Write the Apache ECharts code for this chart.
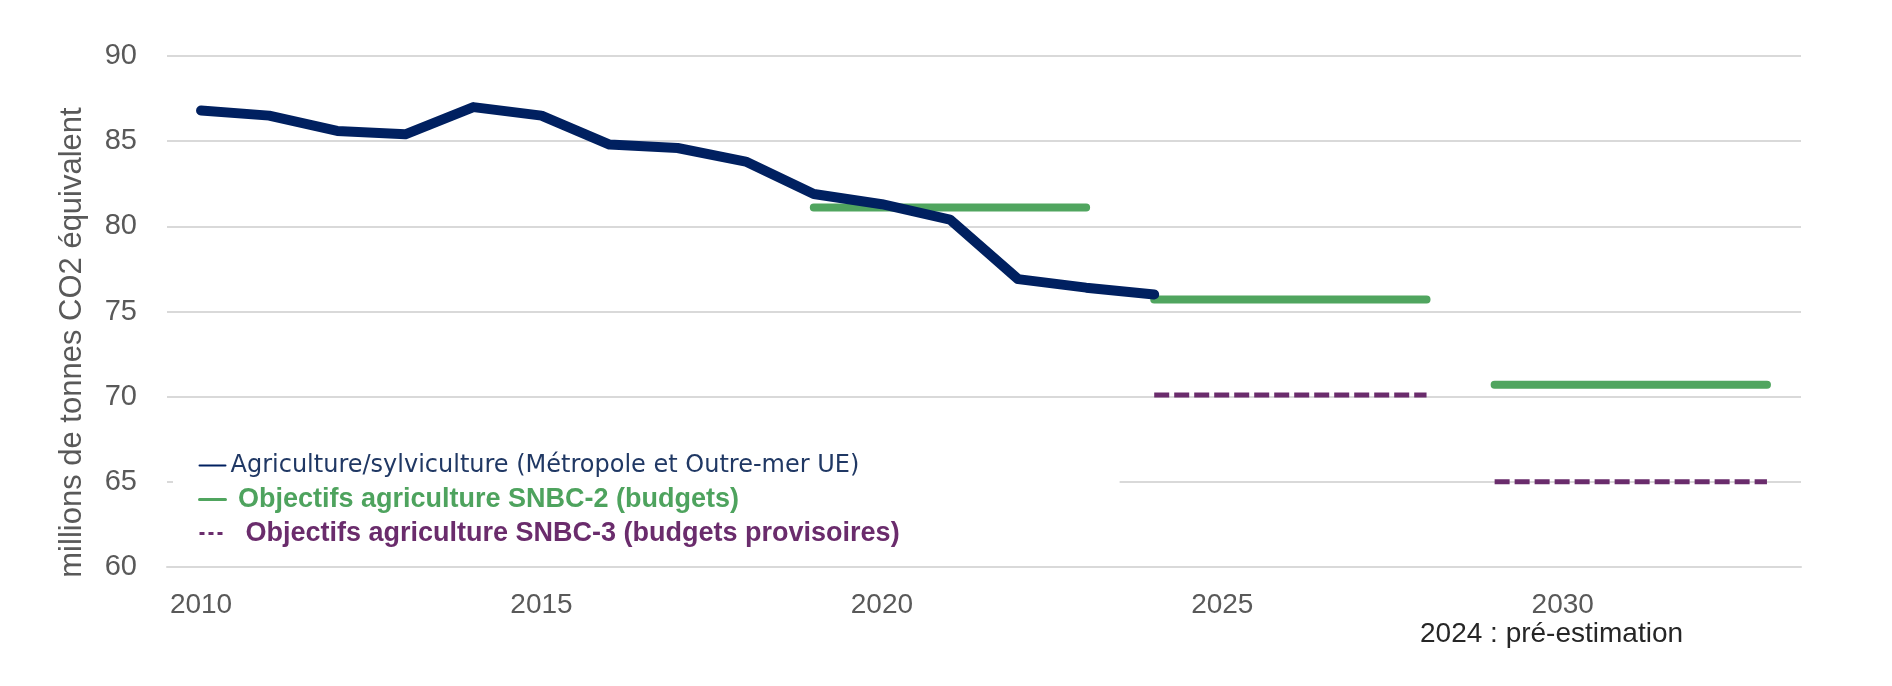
<!DOCTYPE html>
<html>
<head>
<meta charset="utf-8">
<script src="https://cdn.jsdelivr.net/npm/echarts/dist/echarts.min.js"></script>
<style>
  html, body { margin: 0; padding: 0; background: #fff; }
  #app { width: 1892px; height: 686px; }
</style>
</head>
<body>
<div id="app"></div>
<script>
var blue = '#002060';
var green = '#50a55f';
var purple = '#6a2c6c';

var years = ['2010', '2011', '2012', '2013', '2014', '2015', '2016', '2017', '2018', '2019', '2020',
  '2021', '2022', '2023', '2024', '2025', '2026', '2027', '2028', '2029', '2030', '2031', '2032', '2033'];
var labelYears = ['2010', '2015', '2020', '2025', '2030'];

// emissions agriculture/sylviculture 2010 -> 2024 (2024 = pre-estimation)
var emissions = [86.8, 86.5, 85.6, 85.4, 87.0, 86.5, 84.8, 84.6, 83.8, 81.9, 81.3, 80.4, 76.9, 76.4, 76.0];

// budgets SNBC-2
var snbc2Periods = [[2019, 2023], [2024, 2028], [2029, 2033]];
var snbc2Values = [81.1, 75.7, 70.7];

// budgets provisoires SNBC-3
var snbc3Periods = [[2024, 2028], [2029, 2033]];
var snbc3Values = [70.1, 65.0];

var nameHist = 'Agriculture/sylviculture (Métropole et Outre-mer UE)';
var nameS2 = 'Objectifs agriculture SNBC-2 (budgets)';
var nameS3 = 'Objectifs agriculture SNBC-3 (budgets provisoires)';

function segment(period, value) {
  return years.map(function (y) {
    var n = +y;
    return (n >= period[0] && n <= period[1]) ? value : null;
  });
}

var histData = years.map(function (y, i) {
  return i < emissions.length ? emissions[i] : null;
});

var series = [];
snbc2Periods.forEach(function (p, i) {
  series.push({
    name: nameS2,
    type: 'line',
    data: segment(p, snbc2Values[i]),
    symbol: 'none',
    z: 2,
    lineStyle: { color: green, width: 8, cap: 'round' },
    itemStyle: { color: green }
  });
});
snbc3Periods.forEach(function (p, i) {
  series.push({
    name: nameS3,
    type: 'line',
    data: segment(p, snbc3Values[i]),
    symbol: 'none',
    z: 3,
    lineStyle: { color: purple, width: 5, type: [15, 5], cap: 'butt' },
    itemStyle: { color: purple }
  });
});
series.push({
  name: nameHist,
  type: 'line',
  data: histData,
  symbol: 'none',
  z: 4,
  lineStyle: { color: blue, width: 10, cap: 'round', join: 'round' },
  itemStyle: { color: blue }
});

// legend: keep the line icon, hide the default symbol
var hideSymbol = { opacity: 0, color: 'rgba(0,0,0,0)', borderWidth: 0 };

var myChart = echarts.init(document.getElementById('app'));
myChart.setOption({
  backgroundColor: '#fff',
  animation: false,
  grid: { left: 167, right: 91, top: 56, bottom: 119 },
  legend: {
    orient: 'vertical',
    left: 173,
    top: 444,
    padding: [8, 220, 8, 25],
    backgroundColor: '#fff',
    itemWidth: 26,
    itemHeight: 14,
    itemGap: 7,
    selectedMode: false,
    formatter: function (name) {
      if (name === nameS2) return ' ' + name;
      if (name === nameS3) return '  ' + name;
      return name;
    },
    data: [
      { name: nameHist, lineStyle: { width: 2 }, itemStyle: hideSymbol,
        textStyle: { color: '#203864', fontSize: 24, fontFamily: 'DejaVu Sans', lineHeight: 27 } },
      { name: nameS2, lineStyle: { width: 3 }, itemStyle: hideSymbol,
        textStyle: { color: '#4ea35e', fontSize: 27, fontWeight: 'bold', fontFamily: 'Liberation Sans', lineHeight: 27 } },
      { name: nameS3, lineStyle: { width: 3, type: [5, 4] }, itemStyle: hideSymbol,
        textStyle: { color: purple, fontSize: 27, fontWeight: 'bold', fontFamily: 'Liberation Sans', lineHeight: 27 } }
    ]
  },
  xAxis: {
    type: 'category',
    data: years,
    boundaryGap: true,
    axisLine: { lineStyle: { color: '#d9d9d9', width: 2 } },
    axisTick: { interval: 0, length: 9, lineStyle: { color: '#d9d9d9', width: 2 } },
    axisLabel: {
      interval: 0,
      margin: 24,
      color: '#595959',
      fontSize: 28,
      fontFamily: 'Liberation Sans',
      formatter: function (v) { return labelYears.indexOf(v) >= 0 ? v : ''; }
    },
    splitLine: { show: false }
  },
  yAxis: {
    type: 'value',
    min: 60,
    max: 90,
    interval: 5,
    name: 'millions de tonnes CO2 équivalent',
    nameLocation: 'middle',
    nameRotate: 90,
    nameGap: 79,
    nameTextStyle: { color: '#595959', fontSize: 31, fontFamily: 'Liberation Sans', padding: [0, 62, 0, 0] },
    axisLine: { show: false },
    axisTick: { show: false },
    axisLabel: { margin: 30, color: '#595959', fontSize: 29, fontFamily: 'Liberation Sans' },
    splitLine: { lineStyle: { color: '#d9d9d9', width: 2 } }
  },
  graphic: [{
    type: 'text',
    left: 1420,
    top: 620,
    style: { text: '2024 : pré-estimation', font: '28px "Liberation Sans"', fill: '#262626' }
  }],
  series: series
});
</script>
</body>
</html>
